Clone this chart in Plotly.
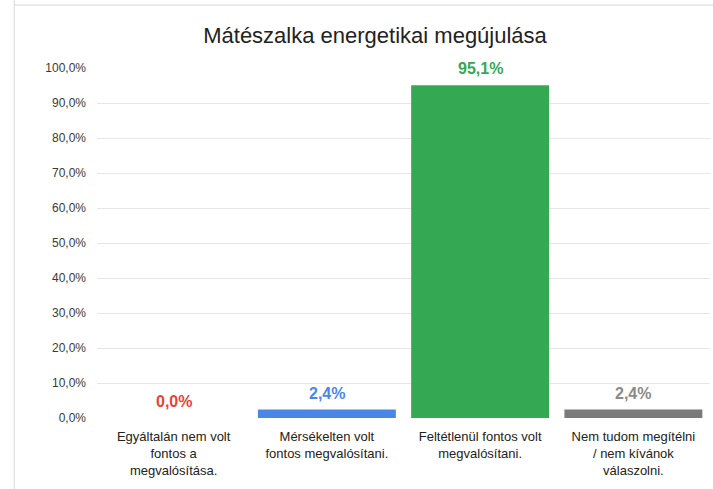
import plotly.graph_objects as go

categories = [
    "Egyáltalán nem volt<br>fontos a<br>megvalósítása.",
    "Mérsékelten volt<br>fontos megvalósítani.",
    "Feltétlenül fontos volt<br>megvalósítani.",
    "Nem tudom megítélni<br>/ nem kívánok<br>válaszolni.",
]
values = [0.0, 2.4, 95.1, 2.4]
value_labels = ["0,0%", "2,4%", "95,1%", "2,4%"]
bar_colors = ["#ea4335", "#4a86e8", "#34a853", "#7a7a7a"]
label_colors = ["#ea4335", "#4a86e8", "#34a853", "#8a8a8a"]
tick_vals = [0, 10, 20, 30, 40, 50, 60, 70, 80, 90, 100]
tick_text = ["0,0%", "10,0%", "20,0%", "30,0%", "40,0%", "50,0%", "60,0%",
             "70,0%", "80,0%", "90,0%", "100,0%"]

fig = go.Figure()
fig.add_trace(go.Bar(
    x=categories, y=values, marker=dict(color=bar_colors, line=dict(width=0)),
    hoverinfo="skip", showlegend=False,
))

for c, v, t, col in zip(categories, values, value_labels, label_colors):
    fig.add_annotation(x=c, y=v, text="<b>%s</b>" % t, showarrow=False,
                       yanchor="bottom", yshift=6,
                       font=dict(size=16, color=col, family="Liberation Sans, Arial"))

# outer frame (light gray border as in the screenshot)
fig.add_shape(type="line", xref="paper", yref="paper", x0=-0.135, x1=-0.135, y0=-0.3, y1=1.2,
              line=dict(color="#d8d8d8", width=1))
fig.add_shape(type="line", xref="paper", yref="paper", x0=-0.135, x1=1.1, y0=1.18, y1=1.18,
              line=dict(color="#d8d8d8", width=1))

fig.update_layout(
    width=713, height=489,
    paper_bgcolor="white", plot_bgcolor="white",
    margin=dict(l=97, r=3, t=68, b=71),
    bargap=0.1,
    font=dict(family="Liberation Sans, Arial", color="#333333", size=12),
    title=dict(text="Mátészalka energetikai megújulása", x=0.526, xanchor="center",
               y=1 - 35 / 489, yanchor="middle",
               font=dict(size=22, color="#222222", family="Liberation Sans, Arial")),
    xaxis=dict(showgrid=False, showline=False, ticks="", zeroline=False,
               ticklabelstandoff=9,
               tickfont=dict(size=13, color="#222222")),
    yaxis=dict(range=[0, 100], tickvals=tick_vals, ticktext=tick_text,
               showgrid=True, gridcolor="#e6e6e6", gridwidth=1, zeroline=False,
               showline=False, ticks="", ticklabelstandoff=10,
               tickfont=dict(size=12, color="#3a3a3a")),
)

fig.write_html("out.html", config={"displayModeBar": False},
               post_script="document.body.style.margin='0';")
